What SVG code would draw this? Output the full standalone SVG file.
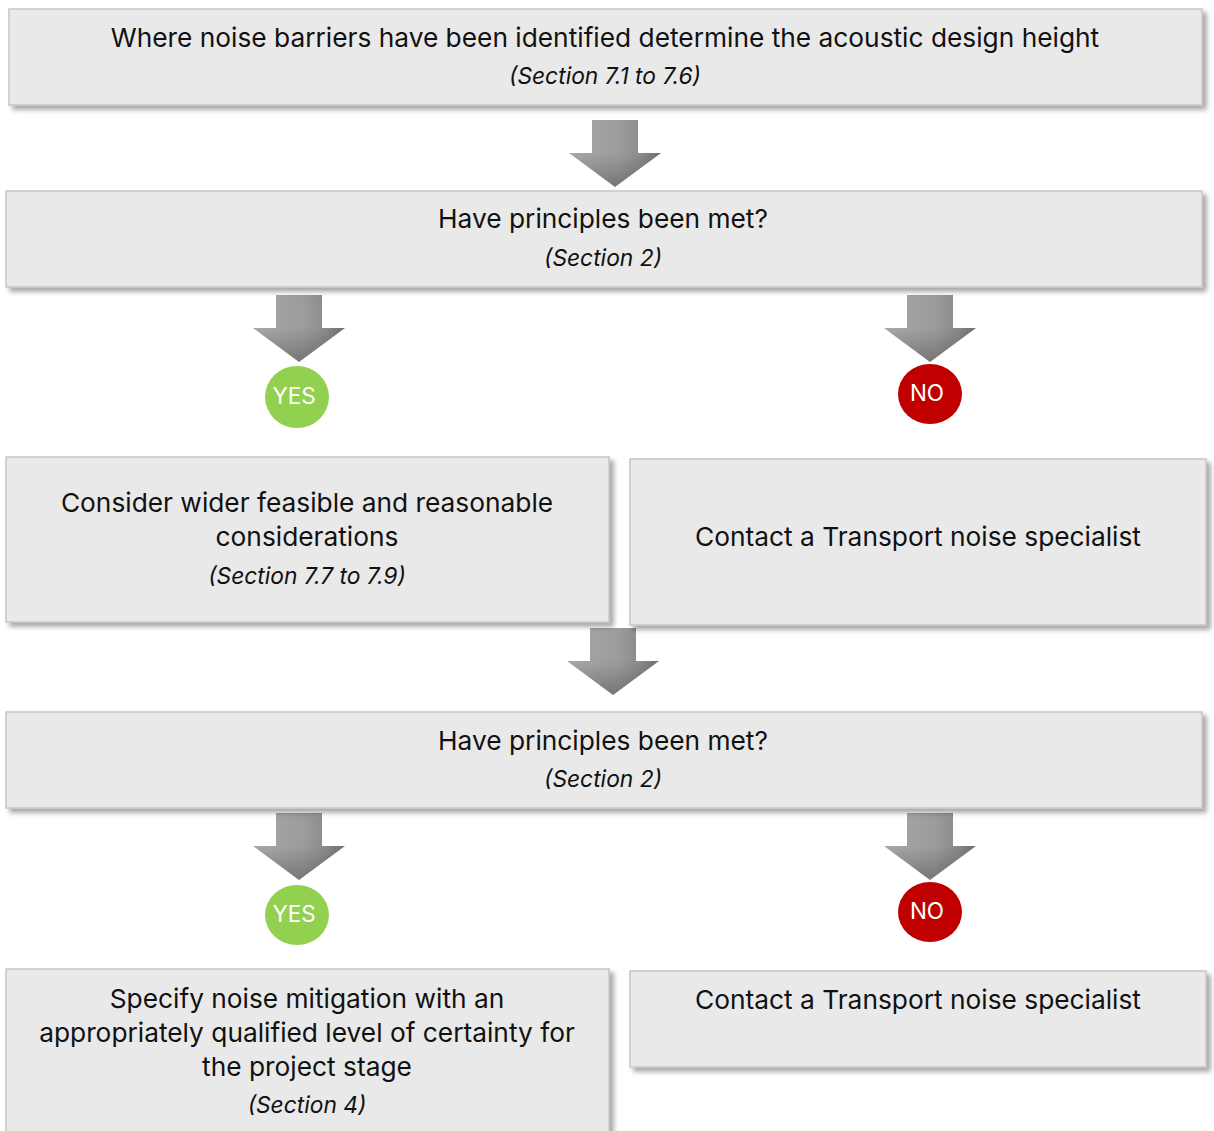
<svg xmlns="http://www.w3.org/2000/svg" width="1214" height="1131" viewBox="0 0 1214 1131">
<defs>
<filter id="sh" x="-5%" y="-10%" width="115%" height="130%">
<feDropShadow dx="4" dy="4" stdDeviation="2.5" flood-color="#000" flood-opacity="0.35"/>
</filter>
<linearGradient id="ag" x1="0" y1="0" x2="1" y2="0">
<stop offset="0" stop-color="#a8a8a8"/>
<stop offset="0.55" stop-color="#9c9c9c"/>
<stop offset="0.8" stop-color="#8a8a8a"/>
<stop offset="1" stop-color="#6e6e6e"/>
</linearGradient>
<linearGradient id="hg" x1="0" y1="0" x2="0" y2="1">
<stop offset="0" stop-color="#000" stop-opacity="0"/>
<stop offset="1" stop-color="#000" stop-opacity="0.25"/>
</linearGradient>
<g id="arrow">
<path d="M-23,0 H23 V33 H46 L0,67 L-46,33 H-23 Z" fill="url(#ag)"/>
<path d="M-46,33 H46 L0,67 Z" fill="url(#hg)"/>
</g>
</defs>
<style>
.box{fill:#e9e9e9;stroke:#c6c6c6;stroke-width:1.5;filter:url(#sh)}
.t{font-family:Inter,"Liberation Sans",Arial,sans-serif;font-size:26.3px;fill:#111;text-anchor:middle}
.s{font-family:Inter,"Liberation Sans",Arial,sans-serif;font-size:22.8px;font-style:italic;fill:#111;text-anchor:middle}
.c{font-family:Inter,"Liberation Sans",Arial,sans-serif;font-size:22.5px;fill:#fff;text-anchor:middle}
</style>
<rect width="1214" height="1131" fill="#fff"/>
<g id="connectors">
<use href="#arrow" x="615" y="120"/>
<use href="#arrow" x="299" y="295"/>
<use href="#arrow" x="930" y="295"/>
<use href="#arrow" x="613" y="628"/>
<use href="#arrow" x="299" y="813"/>
<use href="#arrow" x="930" y="813"/>
</g>
<g id="n1">
<rect class="box" x="9" y="9" width="1193" height="96"/>
<text class="t" x="605" y="47">Where noise barriers have been identified determine the acoustic design height</text>
<text class="s" x="605" y="84">(Section 7.1 to 7.6)</text>
</g>
<g id="n2">
<rect class="box" x="6" y="191" width="1196" height="96"/>
<text class="t" x="603" y="228">Have principles been met?</text>
<text class="s" x="603" y="266">(Section 2)</text>
</g>
<g id="yes1">
<ellipse cx="297" cy="397" rx="32" ry="31" fill="#92d050"/>
<text class="c" x="294" y="404">YES</text>
</g>
<g id="no1">
<ellipse cx="930" cy="394" rx="32" ry="30" fill="#c00000"/>
<text class="c" x="927" y="401">NO</text>
</g>
<g id="n3">
<rect class="box" x="6" y="457" width="603" height="165"/>
<text class="t" x="307" y="512">Consider wider feasible and reasonable</text>
<text class="t" x="307" y="546">considerations</text>
<text class="s" x="307" y="584">(Section 7.7 to 7.9)</text>
</g>
<g id="n4">
<rect class="box" x="630" y="459" width="576" height="166"/>
<text class="t" x="918" y="546">Contact a Transport noise specialist</text>
</g>
<g id="n5">
<rect class="box" x="6" y="712" width="1196" height="96"/>
<text class="t" x="603" y="750">Have principles been met?</text>
<text class="s" x="603" y="787">(Section 2)</text>
</g>
<g id="yes2">
<ellipse cx="297" cy="915" rx="32" ry="30" fill="#92d050"/>
<text class="c" x="294" y="922">YES</text>
</g>
<g id="no2">
<ellipse cx="930" cy="912" rx="32" ry="30" fill="#c00000"/>
<text class="c" x="927" y="919">NO</text>
</g>
<g id="n6">
<rect class="box" x="6" y="969" width="603" height="180"/>
<text class="t" x="307" y="1008">Specify noise mitigation with an</text>
<text class="t" x="307" y="1042">appropriately qualified level of certainty for</text>
<text class="t" x="307" y="1076">the project stage</text>
<text class="s" x="307" y="1113">(Section 4)</text>
</g>
<g id="n7">
<rect class="box" x="630" y="971" width="576" height="96"/>
<text class="t" x="918" y="1009">Contact a Transport noise specialist</text>
</g>
</svg>
